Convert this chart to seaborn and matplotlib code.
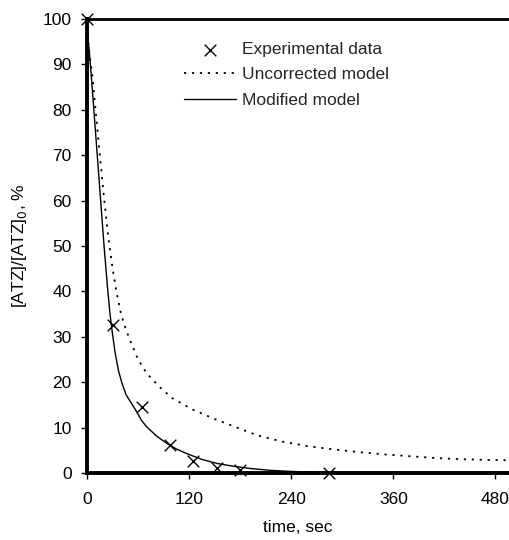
import pandas as pd
import matplotlib.pyplot as plt
import seaborn as sns

# data
t_exp = [0, 30, 65, 97, 125, 153, 180, 284]
y_exp = [100, 32.6, 14.6, 6.2, 2.7, 1.0, 0.7, 0.0]

t_unc = [0, 1, 3, 6, 10, 15, 20, 25, 30, 35, 40, 45, 50, 60, 70, 85, 100, 125, 150,
         175, 200, 230, 260, 290, 320, 350, 380, 410, 440, 470, 500]
y_unc = [100, 96, 92, 88, 80, 70, 60.5, 52, 45, 39.5, 35, 32, 29.5, 25, 22, 19, 16.5,
         13.9, 11.9, 10.1, 8.3, 6.9, 5.9, 5.2, 4.6, 4.1, 3.7, 3.3, 3.05, 2.9, 2.8]

t_mod = [0, 1, 3, 6, 10, 15, 20, 24, 27, 30, 33, 37, 41, 46, 52, 58, 64, 70, 82,
         94, 105, 117, 135, 153, 172, 192, 215, 240, 270, 300, 360]
y_mod = [100, 96, 92, 85, 75, 62.5, 50, 41, 35, 30.5, 26.5, 22.5, 19.8, 17.2, 15.4,
         13.6, 11.6, 10.2, 8.1, 6.5, 5.3, 4.3, 3.0, 2.1, 1.5, 1.0, 0.6, 0.35, 0.2, 0.1,
         0.05]

sns.set_theme(style="white")
plt.rcParams['font.family'] = ['Liberation Sans', 'DejaVu Sans']

fig = plt.figure(figsize=(5.09, 5.40), dpi=100)
ax = fig.add_axes([0.171, 0.124, 0.829, 0.841])

sns.lineplot(x=t_unc, y=y_unc, ax=ax, color='black', linewidth=1.3,
             linestyle=(0, (1.2, 3.2)), label='Uncorrected model')
sns.lineplot(x=t_mod, y=y_mod, ax=ax, color='black', linewidth=1.0,
             label='Modified model')
sns.scatterplot(x=t_exp, y=y_exp, ax=ax, color='black', marker='x', s=70,
                linewidth=1.0, label='Experimental data', zorder=5, clip_on=False)

ax.set_xlim(0, 496)
ax.set_ylim(0, 100)
ax.set_xticks([0, 120, 240, 360, 480])
ax.set_yticks(range(0, 101, 10))
ax.tick_params(axis='both', direction='out', length=4, width=1, color='black',
               labelsize=12.5, labelcolor='black', left=True, bottom=True)
ax.tick_params(axis='y', pad=7)
ax.tick_params(axis='x', pad=10)

for side in ['left', 'bottom']:
    ax.spines[side].set_linewidth(2.8)
    ax.spines[side].set_color('black')
ax.spines['top'].set_linewidth(2.0)
ax.spines['top'].set_color('black')
ax.spines['right'].set_visible(False)

ax.set_xlabel('time, sec', fontsize=12.5, color='black', labelpad=9)
ax.set_ylabel('[ATZ]/[ATZ]$_0$, %', fontsize=12.5, color='black', labelpad=10)

h, l = ax.get_legend_handles_labels()
order = [2, 0, 1]
ax.legend([h[i] for i in order], [l[i] for i in order], frameon=False,
          loc='upper left', bbox_to_anchor=(0.21, 0.968), fontsize=12.5,
          handlelength=3.0, handletextpad=0.3, labelspacing=0.58, borderpad=0)

plt.savefig('out.png', dpi=100)
